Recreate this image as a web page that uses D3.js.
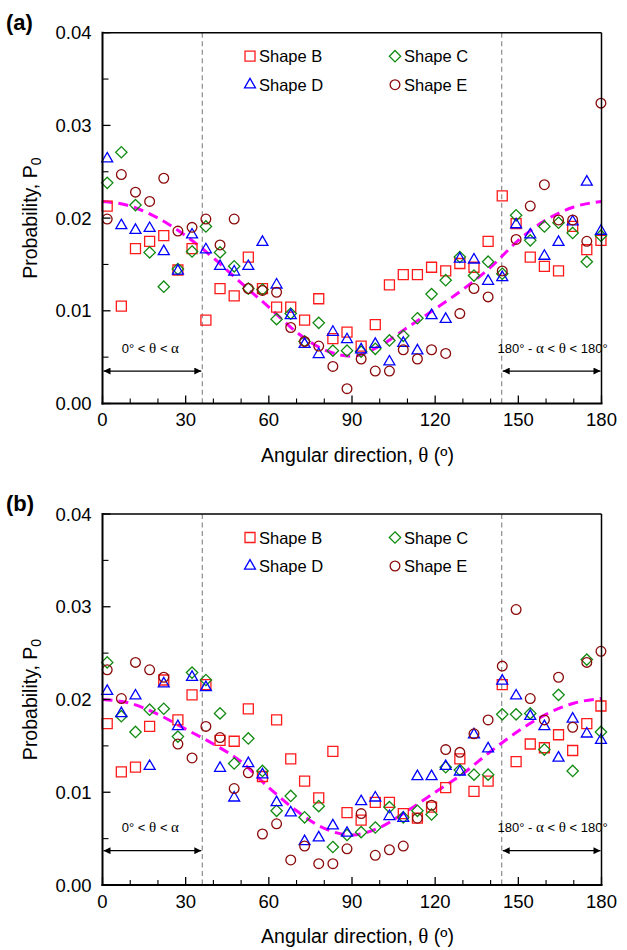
<!DOCTYPE html>
<html><head><meta charset="utf-8">
<script src="https://cdn.jsdelivr.net/npm/d3@7"></script>
<style>body{margin:0;background:#fff} svg{display:block}</style>
</head><body><svg id="c" width="627" height="950"></svg>
<script>
// ---------- data ----------
const angles = [1.7, 6.8, 11.9, 17.0, 22.1, 27.2, 32.3, 37.3, 42.4, 47.5,
  52.6, 57.7, 62.8, 67.9, 72.9, 78.0, 83.1, 88.2, 93.3, 98.4,
  103.5, 108.5, 113.6, 118.7, 123.8, 128.9, 134.0, 139.1, 144.2, 149.2,
  154.3, 159.4, 164.5, 169.6, 174.7, 179.8];

const aShapeB = [0.0213, 0.0105, 0.0167, 0.0175, 0.0181, 0.0144, 0.0167, 0.0090, 0.0124, 0.0116,
  0.0158, 0.0124, 0.0104, 0.0104, 0.0090, 0.0113, 0.0070, 0.0077, 0.0062, 0.0085,
  0.0128, 0.0139, 0.0139, 0.0147, 0.0143, 0.0151, 0.0147, 0.0175, 0.0224, 0.0194,
  0.0158, 0.0148, 0.0143, 0.0191, 0.0166, 0.0176];
const aShapeC = [0.0238, 0.0271, 0.0214, 0.0163, 0.0126, 0.0145, 0.0164, 0.0191, 0.0163, 0.0148,
  0.0124, 0.0123, 0.0091, 0.0097, 0.0067, 0.0087, 0.0057, 0.0057, 0.0056, 0.0059,
  0.0068, 0.0073, 0.0092, 0.0118, 0.0133, 0.0158, 0.0138, 0.0153, 0.0140, 0.0203,
  0.0176, 0.0191, 0.0195, 0.0184, 0.0153, 0.0181];
const aShapeD = [0.0264, 0.0192, 0.0187, 0.0189, 0.0164, 0.0143, 0.0182, 0.0166, 0.0148, 0.0142,
  0.0148, 0.0174, 0.0128, 0.0095, 0.0064, 0.0053, 0.0077, 0.0069, 0.0058, 0.0064,
  0.0045, 0.0065, 0.0057, 0.0095, 0.0091, 0.0156, 0.0155, 0.0132, 0.0136, 0.0193,
  0.0182, 0.0159, 0.0174, 0.0196, 0.0239, 0.0186];
const aShapeE = [0.0199, 0.0247, 0.0228, 0.0218, 0.0243, 0.0186, 0.0190, 0.0199, 0.0171, 0.0199,
  0.0124, 0.0122, 0.0120, 0.0082, 0.0067, 0.0062, 0.0040, 0.0016, 0.0048, 0.0035,
  0.0035, 0.0058, 0.0048, 0.0058, 0.0054, 0.0097, 0.0124, 0.0115, 0.0143, 0.0177,
  0.0213, 0.0236, 0.0198, 0.0198, 0.0175, 0.0324];

const bShapeB = [0.0174, 0.0122, 0.0127, 0.0171, 0.0221, 0.0178, 0.0205, 0.0216, 0.0156, 0.0155,
  0.0190, 0.0117, 0.0178, 0.0136, 0.0112, 0.0094, 0.0144, 0.0078, 0.0070, 0.0089,
  0.0089, 0.0077, 0.0072, 0.0084, 0.0105, 0.0136, 0.0101, 0.0112, 0.0216, 0.0133,
  0.0152, 0.0148, 0.0162, 0.0145, 0.0174, 0.0193];
const bShapeC = [0.0240, 0.0182, 0.0165, 0.0189, 0.0190, 0.0160, 0.0229, 0.0221, 0.0185, 0.0131,
  0.0158, 0.0123, 0.0080, 0.0096, 0.0073, 0.0085, 0.0041, 0.0054, 0.0057, 0.0062,
  0.0084, 0.0073, 0.0080, 0.0076, 0.0127, 0.0124, 0.0119, 0.0119, 0.0184, 0.0184,
  0.0185, 0.0146, 0.0205, 0.0123, 0.0243, 0.0165];
const bShapeD = [0.0209, 0.0185, 0.0204, 0.0128, 0.0217, 0.0171, 0.0224, 0.0213, 0.0126, 0.0094,
  0.0131, 0.0119, 0.0089, 0.0078, 0.0047, 0.0051, 0.0064, 0.0056, 0.0090, 0.0094,
  0.0074, 0.0072, 0.0117, 0.0117, 0.0128, 0.0122, 0.0162, 0.0147, 0.0220, 0.0204,
  0.0182, 0.0171, 0.0137, 0.0179, 0.0163, 0.0156];
const bShapeE = [0.0232, 0.0201, 0.0240, 0.0232, 0.0224, 0.0152, 0.0137, 0.0171, 0.0159, 0.0104,
  0.0121, 0.0055, 0.0066, 0.0027, 0.0042, 0.0023, 0.0023, 0.0039, 0.0077, 0.0032,
  0.0038, 0.0042, 0.0072, 0.0086, 0.0146, 0.0143, 0.0163, 0.0178, 0.0236, 0.0297,
  0.0201, 0.0178, 0.0224, 0.0170, 0.0240, 0.0252];

// fitted (dashed magenta) curves
const fitAngles = [0, 10, 20, 30, 40, 50, 60, 70, 80, 90, 100, 110, 120, 130, 140, 150, 160, 170, 180];
const aFit = [0.0218, 0.0213, 0.0200, 0.0181, 0.0157, 0.0130, 0.0104, 0.0077, 0.0058, 0.0051,
  0.0062, 0.0082, 0.0102, 0.0123, 0.0147, 0.0176, 0.0198, 0.0212, 0.0218];
const bFit = [0.0200, 0.0196, 0.0184, 0.0168, 0.0152, 0.0133, 0.0105, 0.0080, 0.0061, 0.0054,
  0.0062, 0.0080, 0.0100, 0.0120, 0.0144, 0.0166, 0.0184, 0.0196, 0.0201];

const seriesNames = ["Shape B", "Shape C", "Shape D", "Shape E"];
const xTickValues = [0, 30, 60, 90, 120, 150, 180];
const xMinorTicks = [10, 20, 40, 50, 70, 80, 100, 110, 130, 140, 160, 170];
const yTickValues = [0, 0.01, 0.02, 0.03, 0.04];
const yTickLabels = ["0.00", "0.01", "0.02", "0.03", "0.04"];
const yMinorTicks = [0.005, 0.015, 0.025, 0.035];
const alphaDeg = 36;
// range labels as [text, isGreekSymbol] pieces
const leftRangeLabel = [["0° < ", false], ["θ", true], [" < ", false], ["α", true]];
const rightRangeLabel = [["180° - ", false], ["α", true], [" < ", false], ["θ", true], [" < 180°", false]];
const xTitle = [["Angular direction, ", false], ["θ", true], [" (º)", false]];

// ---------- drawing ----------
const svg = d3.select("#c");
const FONT = "'Liberation Sans', Arial, Helvetica, sans-serif";
const SERIF = "'Liberation Serif', 'Times New Roman', serif";
const colors = ["#ff1a1a", "#118a11", "#0000ff", "#8b0a0a"];
const symbols = [
  d3.symbol().type(d3.symbolSquare).size(100),
  d3.symbol().type(d3.symbolDiamond2).size(82),
  d3.symbol().type(d3.symbolTriangle).size(52),
  d3.symbol().type(d3.symbolCircle).size(74)
];

const x = d3.scaleLinear().domain([0, 180]).range([102.5, 601.5]);

function richText(sel, pieces, greekScale) {
  pieces.forEach(([t, greek]) => {
    const ts = sel.append("tspan").text(t);
    if (greek) ts.attr("font-family", SERIF).attr("font-size", greekScale);
  });
}

function panel(cfg) {
  const y = d3.scaleLinear().domain([0, 0.04]).range([cfg.bottom, cfg.top]);
  const g = svg.append("g");
  const L = x(0), R = x(180), T = y(0.04), B = y(0);

  // dashed vertical guide lines
  [alphaDeg, 180 - alphaDeg].forEach(a => {
    g.append("line").attr("x1", x(a)).attr("x2", x(a)).attr("y1", T).attr("y2", B)
      .attr("stroke", "#8c8c8c").attr("stroke-width", 1.2).attr("stroke-dasharray", "5,3.5");
  });

  // range arrows
  const defsId = "ah" + cfg.id;
  const defs = svg.append("defs");
  defs.append("marker").attr("id", defsId).attr("viewBox", "0 0 10 10")
    .attr("refX", 10).attr("refY", 5).attr("markerWidth", 9).attr("markerHeight", 7)
    .attr("markerUnits", "userSpaceOnUse").attr("orient", "auto-start-reverse")
    .append("path").attr("d", "M0,0 L10,5 L0,10 Z").attr("fill", "#000");
  const ay = y(cfg.arrowVal);
  [[0, alphaDeg], [180 - alphaDeg, 180]].forEach(([a0, a1]) => {
    g.append("line").attr("x1", x(a0) + 1).attr("x2", x(a1) - 1).attr("y1", ay).attr("y2", ay)
      .attr("stroke", "#000").attr("stroke-width", 1.3)
      .attr("marker-start", `url(#${defsId})`).attr("marker-end", `url(#${defsId})`);
  });
  richText(g.append("text").attr("x", x(alphaDeg / 2) - 2).attr("y", y(cfg.textVal))
    .attr("text-anchor", "middle").attr("font-family", FONT).attr("font-size", 13), leftRangeLabel, 15);
  richText(g.append("text").attr("x", x(180 - alphaDeg / 2) + 1).attr("y", y(cfg.textVal))
    .attr("text-anchor", "middle").attr("font-family", FONT).attr("font-size", 13), rightRangeLabel, 15);

  // fitted curve
  const line = d3.line().x((d, i) => x(fitAngles[i])).y(d => y(d)).curve(d3.curveMonotoneX);
  g.append("path").attr("d", line(cfg.fit)).attr("fill", "none")
    .attr("stroke", "#ff00ff").attr("stroke-width", 3).attr("stroke-dasharray", "10,6");

  // markers
  cfg.series.forEach((vals, si) => {
    g.append("g").selectAll("path").data(vals).join("path")
      .attr("transform", (d, i) => `translate(${x(angles[i])},${y(d)})`)
      .attr("d", symbols[si]())
      .attr("fill", "none").attr("stroke", colors[si]).attr("stroke-width", 1.3);
  });

  // legend
  const lx = [250, 395], lyy = [T + 23.5, T + 52];
  seriesNames.forEach((name, si) => {
    const cx = lx[si % 2], cy = lyy[Math.floor(si / 2)];
    g.append("path").attr("transform", `translate(${cx},${cy})`).attr("d", symbols[si]())
      .attr("fill", "none").attr("stroke", colors[si]).attr("stroke-width", 1.3);
    g.append("text").attr("x", cx + 9).attr("y", cy + 6).attr("font-family", FONT)
      .attr("font-size", 16.5).text(name);
  });

  // frame
  g.append("line").attr("x1", L).attr("x2", R).attr("y1", T).attr("y2", T).attr("stroke", "#000").attr("stroke-width", 1.5);
  g.append("line").attr("x1", R).attr("x2", R).attr("y1", T).attr("y2", B).attr("stroke", "#000").attr("stroke-width", 1.5);

  // x axis
  const xAxis = g.append("g").attr("transform", `translate(0,${B})`);
  xAxis.append("line").attr("x1", L - 1).attr("x2", R + 1).attr("stroke", "#000").attr("stroke-width", 2);
  xAxis.selectAll("line.maj").data(xTickValues).join("line").attr("class", "maj")
    .attr("x1", d => x(d)).attr("x2", d => x(d)).attr("y1", 0).attr("y2", -8)
    .attr("stroke", "#000").attr("stroke-width", 1.3);
  xAxis.selectAll("line.min").data(xMinorTicks).join("line").attr("class", "min")
    .attr("x1", d => x(d)).attr("x2", d => x(d)).attr("y1", 0).attr("y2", -5)
    .attr("stroke", "#000").attr("stroke-width", 1.1);
  xAxis.selectAll("text.tl").data(xTickValues).join("text").attr("class", "tl")
    .attr("x", d => x(d)).attr("y", 22.5).attr("text-anchor", "middle")
    .attr("font-family", FONT).attr("font-size", 18.5).text(d => d);
  richText(xAxis.append("text").attr("x", 357.5).attr("y", 58).attr("text-anchor", "middle")
    .attr("font-family", FONT).attr("font-size", 19.5), xTitle, 21);

  // y axis
  const yAxis = g.append("g").attr("transform", `translate(${L},0)`);
  yAxis.append("line").attr("y1", T - 1).attr("y2", B + 1).attr("stroke", "#000").attr("stroke-width", 2);
  yAxis.selectAll("line.maj").data(yTickValues).join("line").attr("class", "maj")
    .attr("y1", d => y(d)).attr("y2", d => y(d)).attr("x1", 0).attr("x2", 8)
    .attr("stroke", "#000").attr("stroke-width", 1.3);
  yAxis.selectAll("line.min").data(yMinorTicks).join("line").attr("class", "min")
    .attr("y1", d => y(d)).attr("y2", d => y(d)).attr("x1", 0).attr("x2", 6)
    .attr("stroke", "#000").attr("stroke-width", 1.1);
  yAxis.selectAll("text").data(yTickValues).join("text")
    .attr("x", -11).attr("y", d => y(d)).attr("dy", "0.36em").attr("text-anchor", "end")
    .attr("font-family", FONT).attr("font-size", 18.5).text((d, i) => yTickLabels[i]);
  const yt = g.append("text").attr("transform", `translate(37,${(T + B) / 2}) rotate(-90)`)
    .attr("text-anchor", "middle").attr("font-family", FONT).attr("font-size", 19.5);
  yt.append("tspan").text("Probability, P");
  yt.append("tspan").attr("font-size", 14).attr("dy", 4).text("0");

  // panel label
  g.append("text").attr("x", 6).attr("y", cfg.labelY).attr("font-family", FONT)
    .attr("font-size", 22).attr("font-weight", "bold").text(cfg.label);
}

panel({ id: "a", label: "(a)", labelY: 30, top: 32.7, bottom: 403.5,
  series: [aShapeB, aShapeC, aShapeD, aShapeE], fit: aFit, arrowVal: 0.0035, textVal: 0.0055 });
panel({ id: "b", label: "(b)", labelY: 511, top: 514, bottom: 885,
  series: [bShapeB, bShapeC, bShapeD, bShapeE], fit: bFit, arrowVal: 0.0037, textVal: 0.0057 });
</script>
</body></html>
